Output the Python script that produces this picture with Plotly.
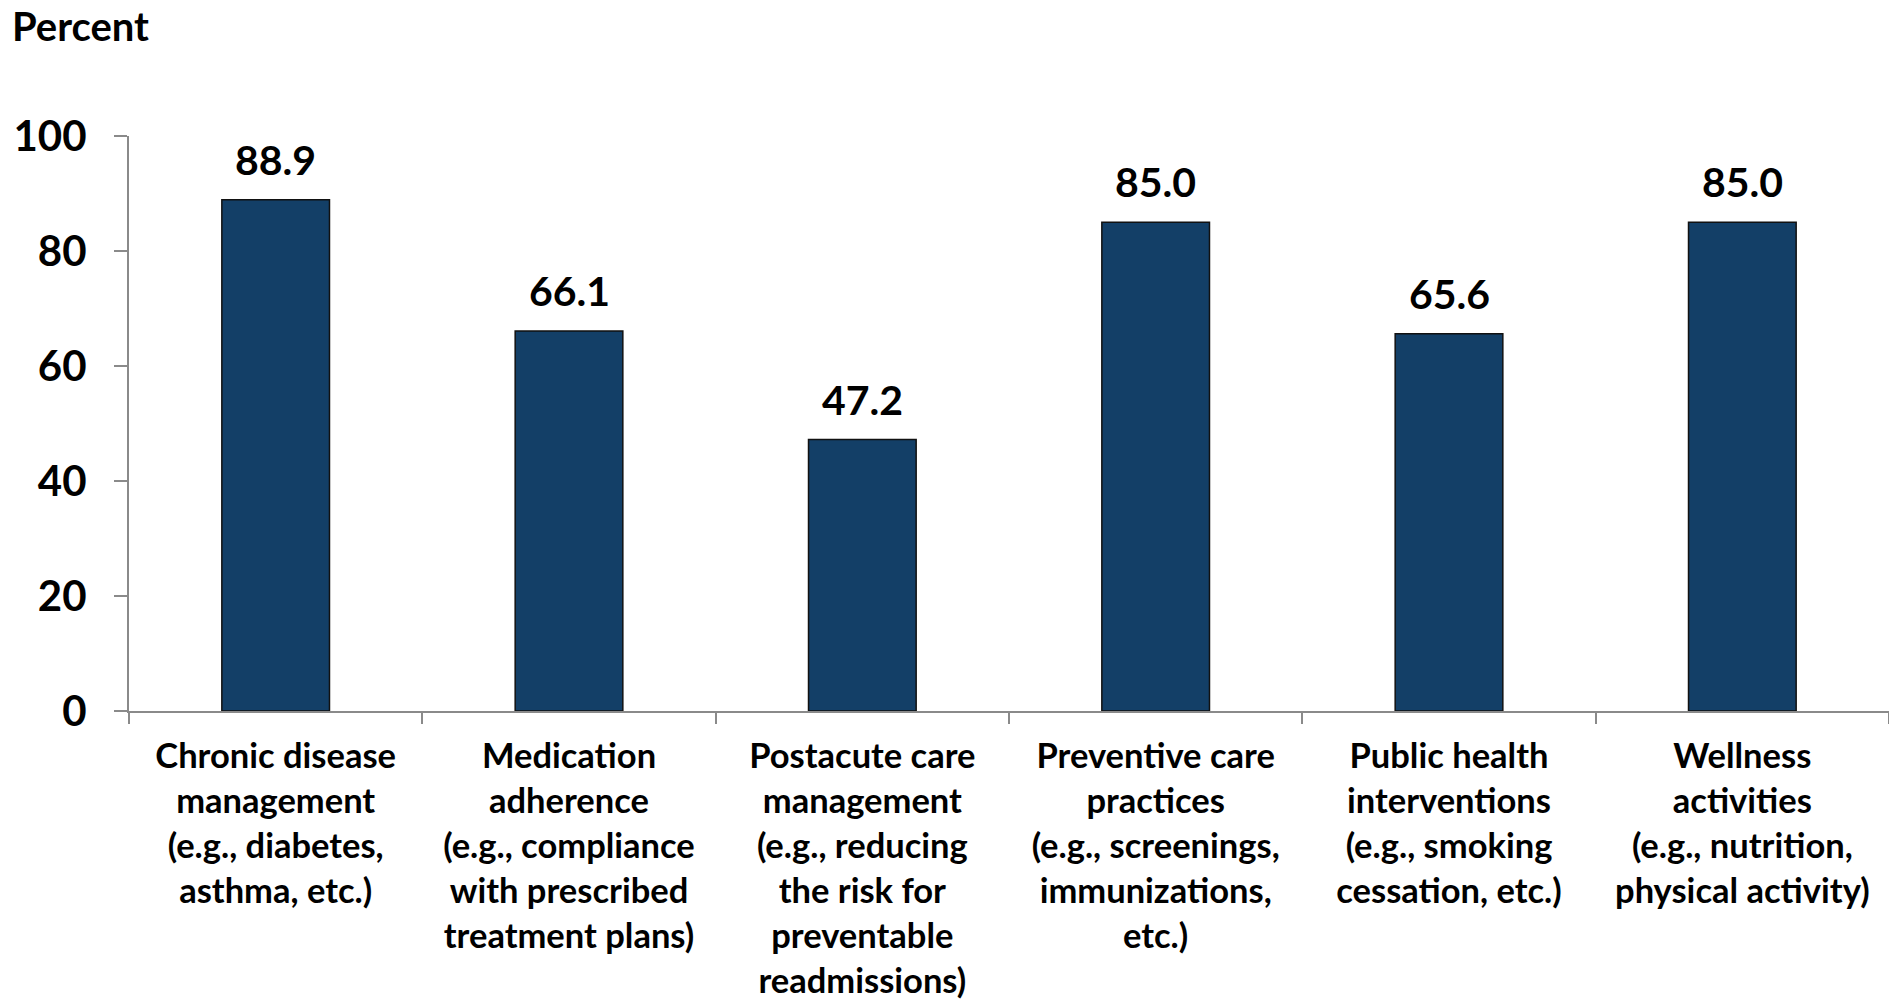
import plotly.graph_objects as go

# Share of respondents by program area
categories = [
    "Chronic disease<br>management<br>(e.g., diabetes,<br>asthma, etc.)",
    "Medication<br>adherence<br>(e.g., compliance<br>with prescribed<br>treatment plans)",
    "Postacute care<br>management<br>(e.g., reducing<br>the risk for<br>preventable<br>readmissions)",
    "Preventive care<br>practices<br>(e.g., screenings,<br>immunizations,<br>etc.)",
    "Public health<br>interventions<br>(e.g., smoking<br>cessation, etc.)",
    "Wellness<br>activities<br>(e.g., nutrition,<br>physical activity)",
]
values = [88.9, 66.1, 47.2, 85.0, 65.6, 85.0]
y_ticks = [0, 20, 40, 60, 80, 100]

BAR_COLOR = "#133f67"
AXIS_COLOR = "#8a8a8a"
FONT = "Lato"

fig = go.Figure(
    go.Bar(
        x=categories,
        y=values,
        width=0.367,
        marker=dict(color=BAR_COLOR, line=dict(color="#111111", width=1.5)),
        hoverinfo="skip",
    )
)

# Value labels above each bar
for c, v in zip(categories, values):
    fig.add_annotation(
        x=c, y=v, text=f"{v:.1f}", showarrow=False,
        yanchor="bottom", yshift=14,
        font=dict(family=FONT, size=41, color="#000000", weight="bold"),
    )

fig.update_layout(
    width=1889, height=1002,
    margin=dict(l=129, r=0, t=136, b=291),
    plot_bgcolor="white", paper_bgcolor="white",
    showlegend=False,
    bargap=0.633,
    font=dict(family=FONT, color="#000000"),
    title=dict(
        text="Percent", x=12 / 1889, xanchor="left",
        y=1 - 27 / 1002, yanchor="middle", xref="container", yref="container",
        font=dict(family=FONT, size=40, color="#000000", weight="bold"),
    ),
)

fig.update_xaxes(
    showline=True, linecolor=AXIS_COLOR, linewidth=2,
    ticks="outside", tickson="boundaries", ticklen=11, tickcolor=AXIS_COLOR, tickwidth=2,
    tickfont=dict(family=FONT, size=34.5, color="#000000", weight="bold"),
    ticklabelstandoff=14, automargin=False,
    showgrid=False, zeroline=False, range=[-0.5, 5.5],
)
fig.update_yaxes(
    range=[0, 100], tickvals=y_ticks, ticktext=[str(t) for t in y_ticks],
    showline=True, linecolor=AXIS_COLOR, linewidth=2,
    ticks="outside", ticklen=13, tickcolor=AXIS_COLOR, tickwidth=2,
    tickfont=dict(family=FONT, size=42, color="#000000", weight="bold"),
    ticklabelstandoff=19, automargin=False,
    showgrid=False, zeroline=False,
)

fig.write_html("out.html")
